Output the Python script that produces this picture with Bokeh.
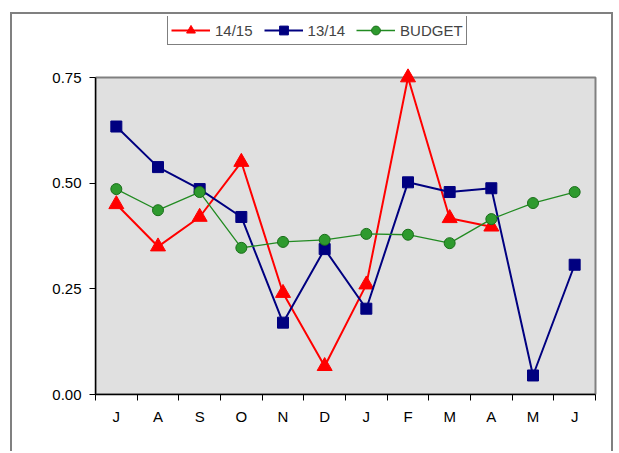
from bokeh.plotting import figure
from bokeh.models import (FixedTicker, Legend, LegendItem, BoxAnnotation,
                          NumeralTickFormatter, Range1d)
from bokeh.embed import file_html
from bokeh.resources import INLINE

months = ["J", "A", "S", "O", "N", "D", "J", "F", "M", "A", "M", "J"]
s1415 = [0.45, 0.35, 0.42, 0.55, 0.24, 0.067, 0.26, 0.75, 0.417, 0.397]
s1314 = [0.634, 0.538, 0.486, 0.42, 0.17, 0.344, 0.203, 0.502, 0.479, 0.488, 0.045, 0.307]
budget = [0.486, 0.436, 0.479, 0.347, 0.361, 0.366, 0.38, 0.378, 0.358, 0.415, 0.453, 0.479]
y_ticks = [0.0, 0.25, 0.5, 0.75]

n = len(months)
xpos = [i + 0.5 for i in range(n)]
y_max = y_ticks[-1]

# layout (pixels inside the canvas)
W, H = 603, 439
f_left, f_right, f_top, f_bottom = 83, 585, 2, 380   # frame
pa_right, pa_top = 583, 63                            # plot area (gray box)
x_end = n * (f_right - f_left) / (pa_right - f_left)
y_end = y_max * (f_bottom - f_top) / (f_bottom - pa_top)

p = figure(width=W, height=H, output_backend="svg", toolbar_location=None,
           x_range=Range1d(0, x_end), y_range=Range1d(0, y_end),
           min_border_left=f_left, min_border_right=W - f_right,
           min_border_top=f_top, min_border_bottom=H - f_bottom,
           styles={"border-left": "2px solid #808080",
                   "border-top": "2px solid #808080",
                   "border-right": "2px solid #808080",
                   "margin-left": "10px", "margin-top": "12px"})
p.background_fill_color = "white"
p.border_fill_color = "white"
p.outline_line_color = None
p.xgrid.visible = False
p.ygrid.visible = False

# gray plot area
p.add_layout(BoxAnnotation(left=0, right=n, bottom=0, top=y_max,
                           fill_color="#e0e0e0", fill_alpha=1,
                           line_color="#808080", line_width=2, line_alpha=1,
                           level="underlay"))

FONT = "Liberation Sans"

# x axis
p.xaxis.ticker = FixedTicker(ticks=xpos, minor_ticks=list(range(n + 1)))
p.xaxis.major_label_overrides = {x: m for x, m in zip(xpos, months)}
p.xaxis.bounds = (0, n)
p.xaxis.major_tick_out = 0
p.xaxis.major_tick_in = 0
p.xaxis.minor_tick_out = 6
p.xaxis.minor_tick_in = 0
p.xaxis.minor_tick_line_color = "black"
p.xaxis.major_label_standoff = 7
# y axis
p.yaxis.ticker = FixedTicker(ticks=y_ticks, minor_ticks=[])
p.yaxis.formatter = NumeralTickFormatter(format="0.00")
p.yaxis.bounds = (0, y_max)
p.yaxis.major_tick_out = 6
p.yaxis.major_tick_in = 0
p.yaxis.major_label_standoff = 8
for ax in (p.xaxis, p.yaxis):
    ax.axis_line_color = "black"
    ax.axis_line_width = 1.5
    ax.major_tick_line_color = "black"
    ax.major_label_text_font = FONT
    ax.major_label_text_font_size = "15px"
    ax.major_label_text_color = "black"

# series
r1l = p.line(xpos[:len(s1415)], s1415, line_color="#ff0000", line_width=2)
r1m = p.scatter(xpos[:len(s1415)], s1415, marker="triangle", size=15,
                fill_color="#ff0000", line_color="#ff0000")
r2l = p.line(xpos, s1314, line_color="#000080", line_width=2)
r2m = p.scatter(xpos, s1314, marker="square", size=11,
                fill_color="#000080", line_color="#000080")
r3l = p.line(xpos, budget, line_color="#228b22", line_width=1.3)
r3m = p.scatter(xpos, budget, marker="circle", size=11,
                fill_color="#2e9a2e", line_color="#1a6f1a", line_width=1)

legend = Legend(items=[LegendItem(label="14/15", renderers=[r1l, r1m]),
                       LegendItem(label="13/14", renderers=[r2l, r2m]),
                       LegendItem(label="BUDGET", renderers=[r3l, r3m])],
                orientation="horizontal", location=(72, 349),
                glyph_width=39, glyph_height=22, label_standoff=5, spacing=11,
                padding=3, margin=0, border_line_color="black", border_line_width=1,
                label_text_font=FONT, label_text_font_size="15px",
                background_fill_color="white", background_fill_alpha=1)
p.add_layout(legend, "center")

open("out.html", "w").write(file_html(p, INLINE))
